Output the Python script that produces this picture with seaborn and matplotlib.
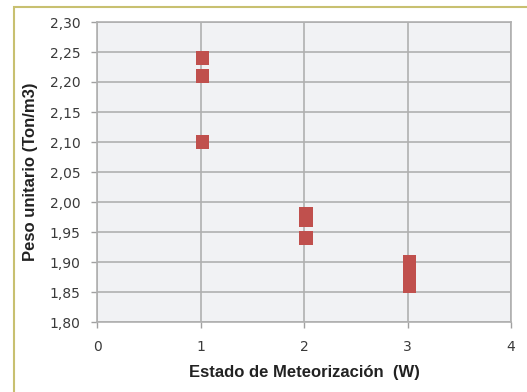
import matplotlib
matplotlib.use("Agg")
import matplotlib.pyplot as plt
import seaborn as sns
import pandas as pd
from matplotlib.patches import Rectangle

# Data
estado = [1.02, 1.02, 1.02, 2.02, 2.02, 2.02, 3.02, 3.02, 3.02, 3.02, 3.02]
peso = [2.24, 2.21, 2.10, 1.98, 1.97, 1.94, 1.90, 1.89, 1.88, 1.87, 1.86]
y_ticks = [1.80, 1.85, 1.90, 1.95, 2.00, 2.05, 2.10, 2.15, 2.20, 2.25, 2.30]
x_ticks = [0, 1, 2, 3, 4]

df = pd.DataFrame({"Estado": estado, "Peso": peso})

sns.set_style("whitegrid")
plt.rcParams["font.family"] = ["DejaVu Sans"]

fig = plt.figure(figsize=(5.27, 3.92), dpi=100)
ax = fig.add_axes([97 / 527, 1 - 322 / 392, 414 / 527, 300 / 392])

# outer chart frame
fig.patches.append(Rectangle((14 / 527, -0.05), 1.0, 1 - 7 / 392 + 0.05,
                             transform=fig.transFigure, fill=False,
                             edgecolor="#c8c070", linewidth=1.5))

ax.set_facecolor("#f1f2f4")
sns.scatterplot(data=df, x="Estado", y="Peso", ax=ax, marker="s", s=90,
                color="#c0504d", edgecolor="none", linewidth=0, zorder=3)

ax.set_xlim(0, 4)
ax.set_ylim(1.80, 2.30)
ax.set_xticks(x_ticks)
ax.set_yticks(y_ticks)
ax.set_yticklabels([f"{v:.2f}".replace(".", ",") for v in y_ticks])
ax.grid(True, color="#b0b0b0", linewidth=1.2)
ax.set_axisbelow(True)
for side, sp in ax.spines.items():
    sp.set_visible(True)
    sp.set_color("#b0b0b0")
    sp.set_linewidth(1.2)

ax.tick_params(axis="both", labelsize=10, labelcolor="#3a3a3a", length=4,
               width=1.0, color="#a0a0a0", direction="out", left=True, bottom=True)
ax.tick_params(axis="y", pad=8)
ax.tick_params(axis="x", pad=9)
ax.set_xlabel("Estado de Meteorización  (W)", fontsize=12, fontweight="bold",
              fontfamily="Liberation Sans", color="#222222", labelpad=8)
ax.set_ylabel("Peso unitario (Ton/m3)", fontsize=12, fontweight="bold",
              fontfamily="Liberation Sans", color="#222222", labelpad=8)

fig.savefig("out.png", dpi=100)
